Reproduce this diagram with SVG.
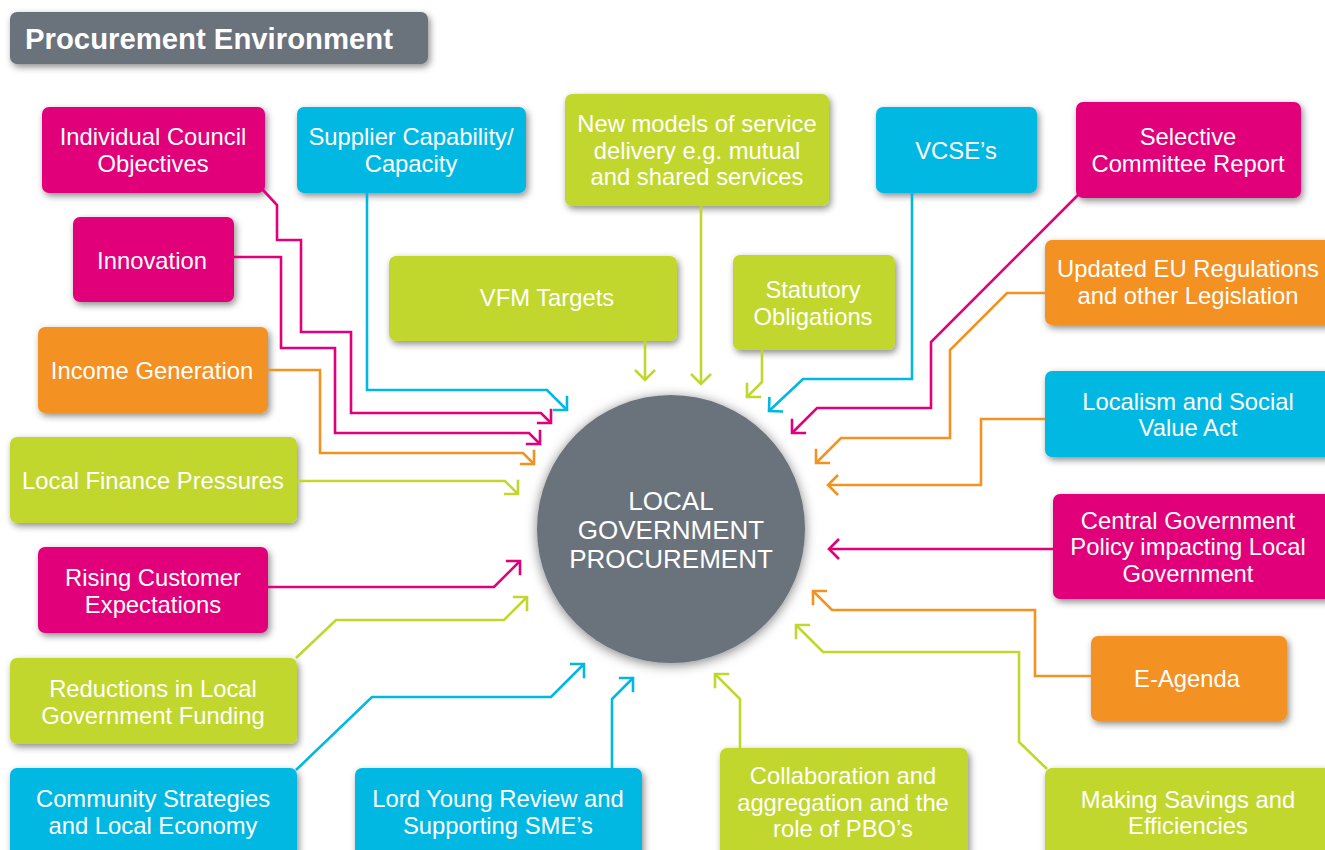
<svg xmlns="http://www.w3.org/2000/svg" width="1325" height="850" viewBox="0 0 1325 850">
<defs>
<filter id="sh" x="-10%" y="-15%" width="125%" height="140%">
<feDropShadow dx="2" dy="3" stdDeviation="3.5" flood-color="#000" flood-opacity="0.45"/>
</filter>
<filter id="glow" x="-20%" y="-20%" width="140%" height="140%">
<feDropShadow dx="0" dy="2" stdDeviation="6" flood-color="#000" flood-opacity="0.5"/>
</filter>
<marker id="am" markerUnits="userSpaceOnUse" orient="auto" refX="0" refY="0" markerWidth="20" markerHeight="30" viewBox="-15 -15 20 30" overflow="visible"><path d="M-10,-10 L0,0 L-10,10" fill="none" stroke="#e2007a" stroke-width="2.6"/></marker>
<marker id="ac" markerUnits="userSpaceOnUse" orient="auto" refX="0" refY="0" markerWidth="20" markerHeight="30" viewBox="-15 -15 20 30" overflow="visible"><path d="M-10,-10 L0,0 L-10,10" fill="none" stroke="#00b8e2" stroke-width="2.6"/></marker>
<marker id="al" markerUnits="userSpaceOnUse" orient="auto" refX="0" refY="0" markerWidth="20" markerHeight="30" viewBox="-15 -15 20 30" overflow="visible"><path d="M-10,-10 L0,0 L-10,10" fill="none" stroke="#c1d72e" stroke-width="2.6"/></marker>
<marker id="ao" markerUnits="userSpaceOnUse" orient="auto" refX="0" refY="0" markerWidth="20" markerHeight="30" viewBox="-15 -15 20 30" overflow="visible"><path d="M-10,-10 L0,0 L-10,10" fill="none" stroke="#f39221" stroke-width="2.6"/></marker>
</defs>
<style>
.box{filter:url(#sh)}
.m{fill:#e2007a}.c{fill:#00b8e2}.l{fill:#c1d72e}.o{fill:#f39221}.g{fill:#6b727c}
text{font-family:"Liberation Sans",Arial,sans-serif;fill:#fff;font-size:23.8px;text-anchor:middle}
.title{font-weight:bold;font-size:29.3px;text-anchor:start}
.ctr{font-size:26px}
#connectors path{fill:none;stroke-width:2.6;stroke-linejoin:miter}
.sm{stroke:#e2007a;marker-end:url(#am)}
.sc{stroke:#00b8e2;marker-end:url(#ac)}
.sl{stroke:#c1d72e;marker-end:url(#al)}
.so{stroke:#f39221;marker-end:url(#ao)}
</style>
<rect width="1325" height="850" fill="#fff"/>

<g id="title"><rect class="box g" x="10" y="12" width="418" height="52" rx="7"/><text class="title" x="25" y="49">Procurement Environment</text></g>

<g id="center"><circle cx="671" cy="529" r="134" fill="#6b727c" filter="url(#glow)"/>
<text class="ctr" x="671" y="510">LOCAL</text><text class="ctr" x="671" y="539">GOVERNMENT</text><text class="ctr" x="671" y="568">PROCUREMENT</text></g>

<g id="individual-council"><rect class="box m" x="42" y="107" width="223" height="86" rx="7"/><text x="153" y="145">Individual Council</text><text x="153" y="172">Objectives</text></g>
<g id="supplier"><rect class="box c" x="297" y="107" width="229" height="86" rx="7"/><text x="411" y="145">Supplier Capability/</text><text x="411" y="172">Capacity</text></g>
<g id="new-models"><rect class="box l" x="565" y="94" width="264" height="112" rx="7"/><text x="697" y="132">New models of service</text><text x="697" y="159">delivery e.g. mutual</text><text x="697" y="185">and shared services</text></g>
<g id="vcse"><rect class="box c" x="876" y="107" width="161" height="86" rx="7"/><text x="956" y="159">VCSE’s</text></g>
<g id="selective"><rect class="box m" x="1076" y="102" width="225" height="96" rx="7"/><text x="1188" y="145">Selective</text><text x="1188" y="172">Committee Report</text></g>
<g id="innovation"><rect class="box m" x="73" y="217" width="161" height="85" rx="7"/><text x="152" y="269">Innovation</text></g>
<g id="vfm"><rect class="box l" x="389" y="256" width="288" height="85" rx="7"/><text x="547" y="306">VFM Targets</text></g>
<g id="statutory"><rect class="box l" x="733" y="255" width="162" height="95" rx="7"/><text x="813" y="298">Statutory</text><text x="813" y="325">Obligations</text></g>
<g id="eu-regs"><rect class="box o" x="1045" y="240" width="300" height="85" rx="7"/><text x="1188" y="277">Updated EU Regulations</text><text x="1188" y="304">and other Legislation</text></g>
<g id="income"><rect class="box o" x="38" y="327" width="230" height="86" rx="7"/><text x="152" y="379">Income Generation</text></g>
<g id="localism"><rect class="box c" x="1045" y="371" width="300" height="86" rx="7"/><text x="1188" y="410">Localism and Social</text><text x="1188" y="436">Value Act</text></g>
<g id="finance"><rect class="box l" x="10" y="437" width="287" height="86" rx="7"/><text x="153" y="489">Local Finance Pressures</text></g>
<g id="central-gov"><rect class="box m" x="1053" y="494" width="292" height="105" rx="7"/><text x="1188" y="529">Central Government</text><text x="1188" y="555">Policy impacting Local</text><text x="1188" y="582">Government</text></g>
<g id="rising"><rect class="box m" x="38" y="547" width="230" height="86" rx="7"/><text x="153" y="586">Rising Customer</text><text x="153" y="613">Expectations</text></g>
<g id="e-agenda"><rect class="box o" x="1091" y="636" width="196" height="85" rx="7"/><text x="1187" y="687">E-Agenda</text></g>
<g id="reductions"><rect class="box l" x="10" y="658" width="287" height="86" rx="7"/><text x="153" y="697">Reductions in Local</text><text x="153" y="724">Government Funding</text></g>
<g id="community"><rect class="box c" x="10" y="768" width="287" height="100" rx="7"/><text x="153" y="807">Community Strategies</text><text x="153" y="834">and Local Economy</text></g>
<g id="lord-young"><rect class="box c" x="355" y="768" width="287" height="100" rx="7"/><text x="498" y="807">Lord Young Review and</text><text x="498" y="834">Supporting SME’s</text></g>
<g id="collaboration"><rect class="box l" x="720" y="748" width="248" height="120" rx="7"/><text x="843" y="784">Collaboration and</text><text x="843" y="811">aggregation and the</text><text x="843" y="837">role of PBO’s</text></g>
<g id="savings"><rect class="box l" x="1045" y="768" width="300" height="100" rx="7"/><text x="1188" y="808">Making Savings and</text><text x="1188" y="834">Efficiencies</text></g>

<g id="connectors">
<path class="sm" d="M263,190 L277,205 L277,240 L301,240 L301,332 L351,332 L351,413 L541,413 L551,423"/>
<path class="sm" d="M234,257 L281,257 L281,348 L335,348 L335,433 L529,433 L540,444"/>
<path class="so" d="M268,370 L320,370 L320,453 L523,453 L534,464"/>
<path class="sc" d="M367,193 L367,390 L547,390 L567,410"/>
<path class="sl" d="M297,481 L505,481 L518,494"/>
<path class="sm" d="M268,587 L494,587 L520,561"/>
<path class="sl" d="M296,658 L336,620 L504,620 L527,597"/>
<path class="sc" d="M296,770 L372,697 L551,697 L584,664"/>
<path class="sc" d="M612,768 L612,699 L633,678"/>
<path class="sl" d="M740,748 L740,699 L715,674"/>
<path class="sl" d="M1047,769 L1019,742 L1019,652 L823,652 L796,625"/>
<path class="so" d="M1091,676 L1035,676 L1035,610 L832,610 L813,591"/>
<path class="sm" d="M1053,549 L829,549"/>
<path class="so" d="M1045,419 L981,419 L981,485 L828,485"/>
<path class="so" d="M1045,293 L1007,293 L950,350 L950,438 L841,438 L816,463"/>
<path class="sm" d="M1079,194 L931,342 L931,408 L817,408 L792,433"/>
<path class="sc" d="M912,193 L912,379 L803,379 L769,411"/>
<path class="sl" d="M762,350 L762,382 L747,397"/>
<path class="sl" d="M701,206 L701,384"/>
<path class="sl" d="M645,341 L645,380"/>
</g>
</svg>
